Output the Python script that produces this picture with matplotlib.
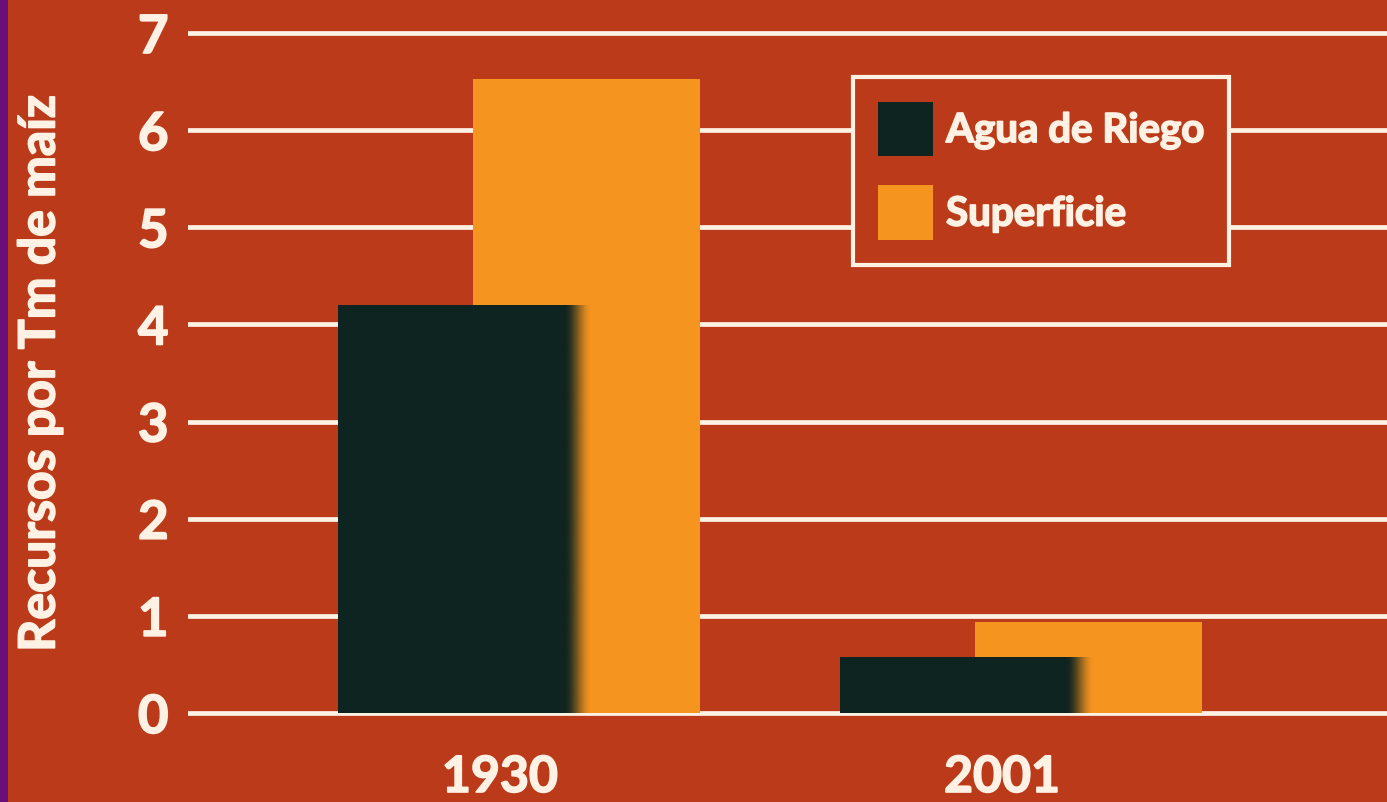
import numpy as np
import matplotlib
matplotlib.use("Agg")
import matplotlib.pyplot as plt
import matplotlib.patheffects as pe
from matplotlib.patches import Patch, Rectangle
from matplotlib.colors import to_rgb

# resources needed per tonne of maize
years = ["1930", "2001"]
series = ["Agua de Riego", "Superficie"]
agua = [4.2, 0.58]
superficie = [6.53, 0.94]
y_ticks = [0, 1, 2, 3, 4, 5, 6, 7]

BG = "#BA3A19"
DARK = "#0E2420"
ORANGE = "#F5951F"
INK = "#FFF2E4"
EDGE = "#6A0F7A"

plt.rcParams["font.family"] = ["Lato", "DejaVu Sans"]
plt.rcParams["font.weight"] = "bold"
# a thin stroke thickens the bold face a little
heavy = [pe.withStroke(linewidth=1.2, foreground=INK)]

W, H = 1387, 802
fig = plt.figure(figsize=(W / 100, H / 100), dpi=100, facecolor=BG)
# axes: x from px 188 to right edge, y from px 730 to top
ax = fig.add_axes([188 / W, (H - 730) / H, 1 - 188 / W, 730 / H])
ax.set_facecolor(BG)

x = np.arange(len(years))
dark_off, dark_w, fade_w = -0.07, 0.505, 0.055
org_off, org_w = 0.172, 0.453

ax.bar(x + org_off, superficie, org_w, color=ORANGE, zorder=2, linewidth=0)

# dark bars with a soft right edge
solid_w = dark_w - fade_w
lefts = x + dark_off - dark_w / 2
ax.bar(lefts, agua, solid_w, align="edge", color=DARK, zorder=3, linewidth=0)
grad = np.zeros((1, 64, 4))
grad[..., :3] = to_rgb(DARK)
t = np.linspace(0, 1, 64)
grad[0, :, 3] = 1 - t * t * (3 - 2 * t)
for left, h in zip(lefts, agua):
    x0 = left + solid_w
    im = ax.imshow(grad, extent=(x0, x0 + fade_w, 0, h), aspect="auto",
                   interpolation="bilinear", zorder=3)
    im.set_clip_path(Rectangle((x0, 0), fade_w, h, transform=ax.transData))

ax.set_xlim(-0.6215, 1.767)
ax.set_ylim(-0.175, 7.34)
ax.set_yticks(y_ticks)
ax.set_yticklabels([str(v) for v in y_ticks])
ax.set_xticks(x)
ax.set_xticklabels(years)
ax.tick_params(axis="y", length=0, pad=14, labelsize=38, labelcolor=INK)
ax.tick_params(axis="x", length=0, pad=18, labelsize=36, labelcolor=INK)
for lab in ax.get_xticklabels() + ax.get_yticklabels():
    lab.set_fontweight("bold")
    lab.set_path_effects(heavy)
ax.yaxis.grid(True, color=INK, linewidth=3.4, zorder=1)
ax.set_axisbelow(True)
for s in ax.spines.values():
    s.set_visible(False)

fig.text(40 / W, 1 - 374 / H, "Recursos por Tm de maíz", rotation=90,
         ha="center", va="center", fontsize=36, fontweight="bold", color=INK,
         path_effects=heavy)

handles = [Patch(facecolor=DARK, label=series[0]),
           Patch(facecolor=ORANGE, label=series[1])]
leg = ax.legend(handles=handles, loc="upper left",
                bbox_to_anchor=(853 / W, 1 - 77 / H),
                bbox_transform=fig.transFigure, borderaxespad=0,
                fontsize=29, handlelength=1.36, handleheight=1.69,
                handletextpad=0.33, labelspacing=0.73, borderpad=0.62,
                fancybox=False, framealpha=1, facecolor=BG, edgecolor=INK)
leg.get_frame().set_linewidth(3)
leg.set_zorder(5)
for txt in leg.get_texts():
    txt.set_color(INK)
    txt.set_fontweight("bold")
    txt.set_path_effects(heavy)

# purple strip down the left edge
fig.patches.append(Rectangle((0, 0), 8 / W, 1, transform=fig.transFigure,
                             facecolor=EDGE, edgecolor="none", zorder=10))

fig.savefig("out.png", dpi=100, facecolor=BG)
